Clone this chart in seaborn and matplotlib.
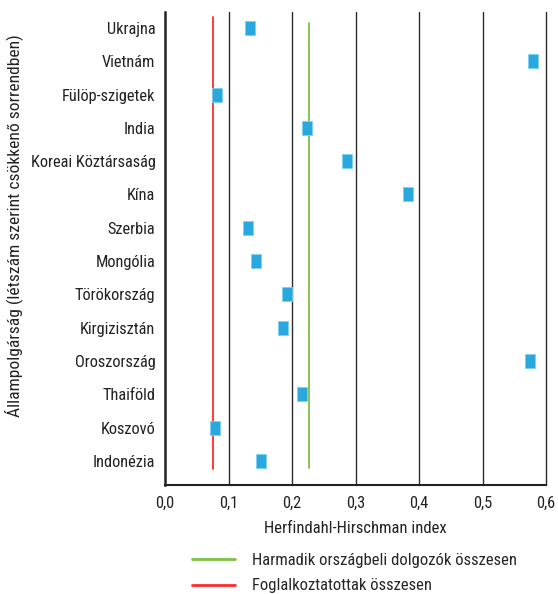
import pandas as pd
import matplotlib.pyplot as plt
import seaborn as sns
from matplotlib.lines import Line2D

# Data
countries = ["Ukrajna", "Vietnám", "Fülöp-szigetek", "India", "Koreai Köztársaság",
             "Kína", "Szerbia", "Mongólia", "Törökország", "Kirgizisztán",
             "Oroszország", "Thaiföld", "Koszovó", "Indonézia"]
hhi = [0.133, 0.580, 0.081, 0.223, 0.286, 0.383, 0.131, 0.143, 0.192, 0.185,
       0.575, 0.216, 0.078, 0.151]
third_country_total = 0.227
employed_total = 0.075

df = pd.DataFrame({"country": countries, "hhi": hhi})

sns.set_style("white")
plt.rcParams['font.family'] = ['Roboto Condensed', 'Roboto', 'DejaVu Sans']

fig = plt.figure(figsize=(5.58, 5.94), dpi=100)
ax = fig.add_axes([0.296, 0.1835, 0.6825, 0.7965])

# vertical grid lines
for x in [0.1, 0.2, 0.3, 0.4, 0.5, 0.6]:
    ax.axvline(x, color="#2b2b2b", lw=1.0, zorder=0, clip_on=False)

ax.axvline(employed_total, ymin=0.034, ymax=0.989, color="#ff2a2a", lw=1.3, zorder=1)
ax.axvline(third_country_total, ymin=0.036, ymax=0.977, color="#7cc242", lw=1.3, zorder=1)

rect = [(-0.75, -1), (0.75, -1), (0.75, 1), (-0.75, 1), (-0.75, -1)]
sns.scatterplot(data=df, x="hhi", y="country", marker=rect, s=110,
                color="#29a8e0", edgecolor="#7fd0f2", linewidth=0.6, ax=ax, zorder=3)

ax.set_xlim(0, 0.6)
ax.set_ylim(13.72, -0.48)
ax.set_xticks([0, 0.1, 0.2, 0.3, 0.4, 0.5, 0.6])
ax.set_xticklabels(["0,0", "0,1", "0,2", "0,3", "0,4", "0,5", "0,6"])
ax.tick_params(axis="both", length=0, labelsize=11.8, colors="#222222")
ax.tick_params(axis="x", pad=8)
ax.tick_params(axis="y", pad=7)
ax.set_xlabel("Herfindahl-Hirschman index", fontsize=12, color="#222222", labelpad=7)
ax.set_ylabel("")
fig.text(0.025, 0.621, "Állampolgárság (létszám szerint csökkenő sorrendben)",
         rotation=90, ha="center", va="center", fontsize=12.6, color="#222222")

for side in ["top", "right"]:
    ax.spines[side].set_visible(False)
ax.spines["left"].set_color("#222222")
ax.spines["left"].set_linewidth(1.8)
ax.spines["bottom"].set_color("#222222")
ax.spines["bottom"].set_linewidth(1.5)

handles = [Line2D([], [], color="#7cc242", lw=2),
           Line2D([], [], color="#ff2a2a", lw=2)]
labels = ["Harmadik országbeli dolgozók összesen", "Foglalkoztatottak összesen"]
fig.legend(handles, labels, loc="upper left", bbox_to_anchor=(0.344, 0.069),
           frameon=False, fontsize=12, handlelength=2.6, handletextpad=1.0,
           labelspacing=0.62, borderaxespad=0, borderpad=0)

fig.savefig("out.png", dpi=100)
